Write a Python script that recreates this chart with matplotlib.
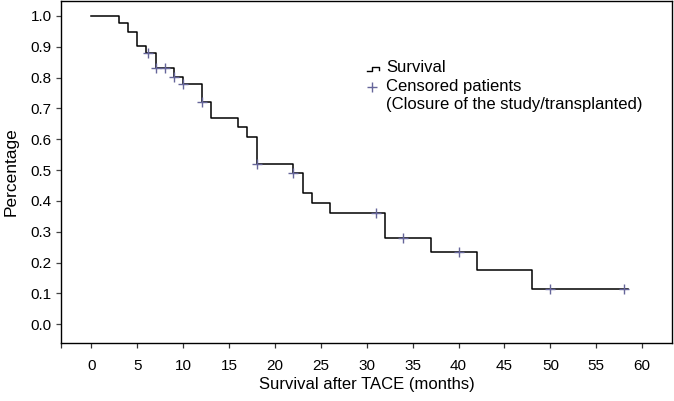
import numpy as np
import matplotlib
matplotlib.use("Agg")
import matplotlib.pyplot as plt
from matplotlib.lines import Line2D

plt.rcParams['font.family'] = ['Liberation Sans', 'DejaVu Sans']

# Kaplan-Meier step data (time in months, survival fraction after each step)
event_times = [0, 3, 4, 5, 6, 7, 9, 10, 12, 13, 16, 17, 18, 22, 23, 24, 26, 32, 37, 42, 48]
survival = [1.0, 0.976, 0.949, 0.903, 0.881, 0.830, 0.803, 0.778, 0.722, 0.668,
            0.638, 0.608, 0.521, 0.490, 0.424, 0.394, 0.360, 0.279, 0.235, 0.176, 0.116]
end_time = 58.5
censor_times = [6.2, 7, 8, 9, 10, 12, 18, 22, 31, 34, 40, 50, 58]

xticks = list(range(0, 61, 5))
yticks = [round(0.1 * i, 1) for i in range(11)]

legend_labels = ["Survival", "Censored patients", "(Closure of the study/transplanted)"]
xlabel = "Survival after TACE (months)"
ylabel = "Percentage"

line_color = "black"
censor_color = "#66669a"

fig = plt.figure(figsize=(6.74, 4.01), dpi=100)
ax = fig.add_axes([61 / 674, (401 - 342.5) / 401, 611 / 674, 341.5 / 401])

t_step = event_times + [end_time]
s_step = survival + [survival[-1]]
ax.step(t_step, s_step, where='post', color=line_color, lw=1.1, zorder=3)

def surv_at(t):
    idx = np.searchsorted(event_times, t, side='right') - 1
    return survival[idx]

censor_vals = [surv_at(t) for t in censor_times]
ax.plot(censor_times, censor_vals, linestyle='none', marker='+', ms=7,
        mew=1.0, color=censor_color, zorder=4)

ax.set_xlim(-3.31, 63.25)
ax.set_ylim(-0.059, 1.048)
ax.set_xticks(xticks)
ax.set_xticklabels([str(x) for x in xticks])
ax.set_xticks([-3.31], minor=True)
ax.set_yticks(yticks)
ax.set_yticklabels([f"{y:.1f}" for y in yticks])
ax.tick_params(axis='x', which='both', direction='out', length=3.8, width=0.9,
               labelsize=11, pad=8, color='#333333')
ax.tick_params(axis='y', direction='out', length=3.6, width=0.9,
               labelsize=11, pad=3, color='#444444')
for sp in ax.spines.values():
    sp.set_linewidth(1.0)
    sp.set_color('black')

ax.set_xlabel(xlabel, fontsize=12, labelpad=3)
ax.set_ylabel(ylabel, fontsize=12.5, labelpad=9)

# manual legend
# step symbol
sx = np.array([366.5, 371.5, 371.5, 378.5, 378.5]) / 674
sy = 1 - np.array([70.5, 70.5, 66.5, 66.5, 70.0]) / 401
fig.add_artist(Line2D(sx, sy, transform=fig.transFigure, color=line_color, lw=1.0))
fig.add_artist(Line2D([372 / 674], [1 - 87 / 401], transform=fig.transFigure,
                      marker='+', ms=7, mew=1.0, color=censor_color, linestyle='none'))
for lab, ypx in zip(legend_labels, [68, 86, 104]):
    fig.text(386 / 674, 1 - ypx / 401, lab, fontsize=12, va='center', ha='left')

fig.savefig("out.png", dpi=100)
